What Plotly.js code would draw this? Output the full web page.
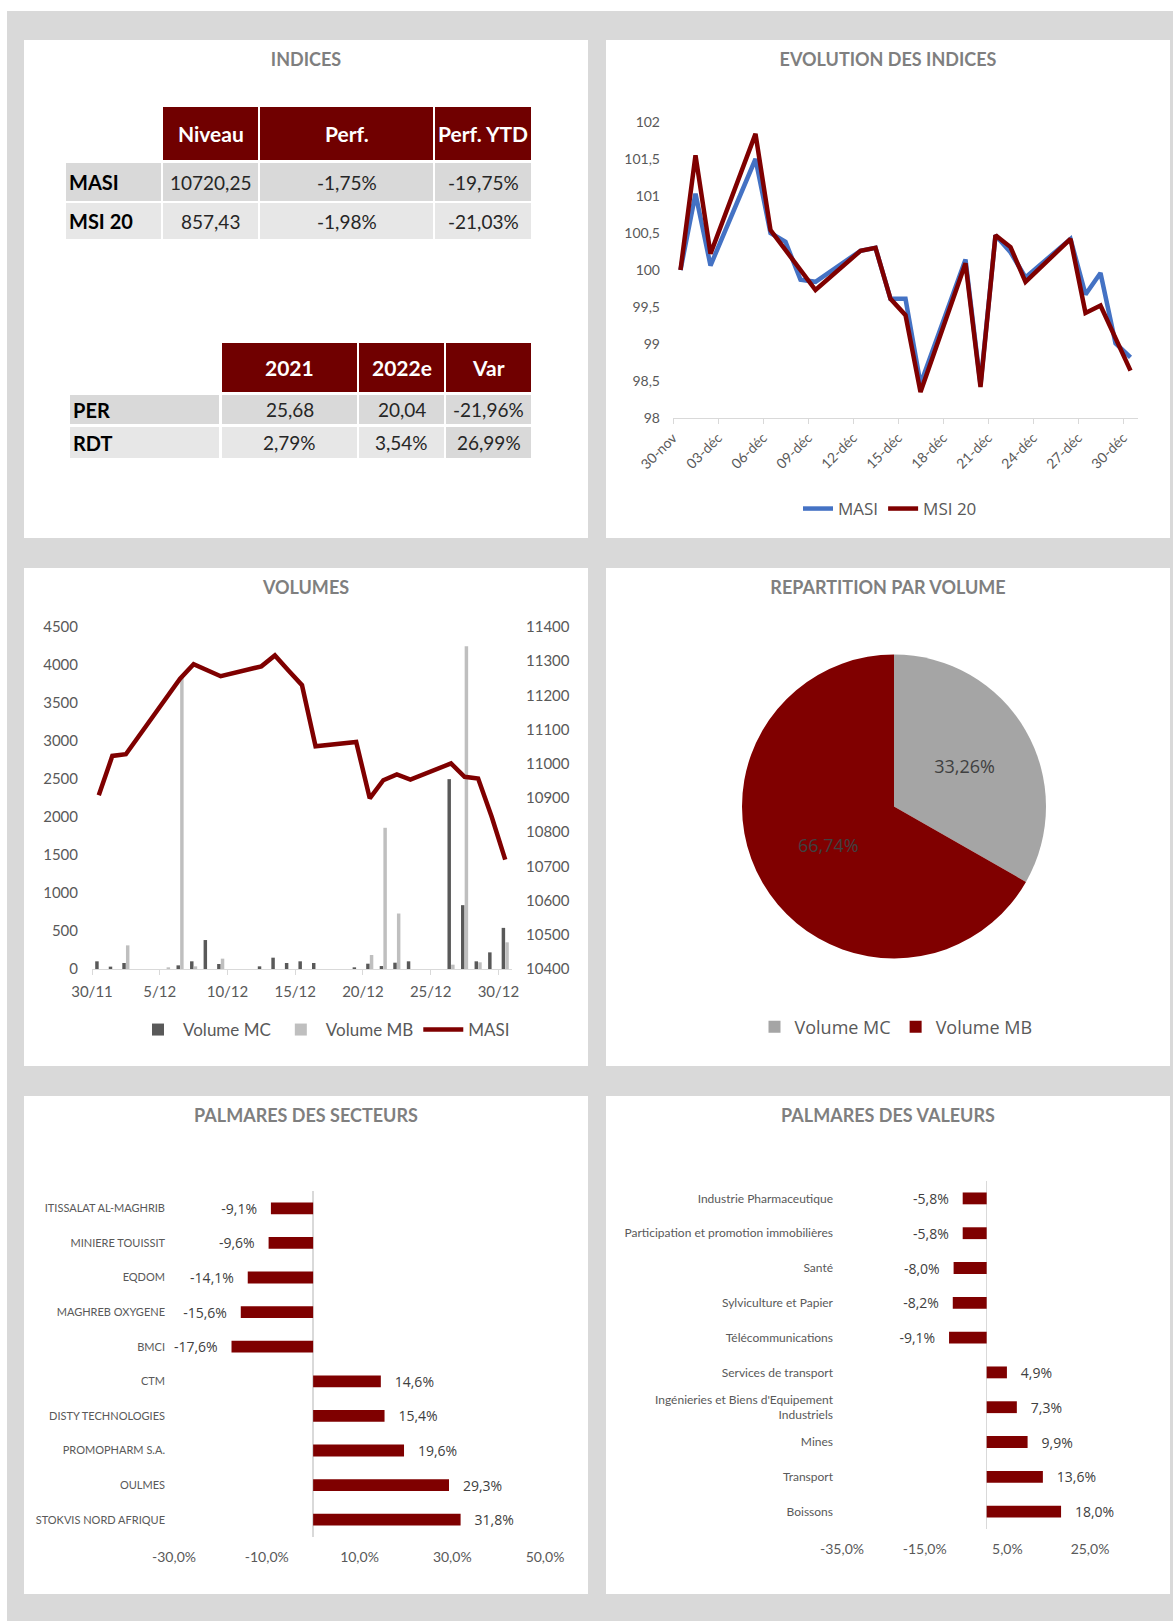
<!DOCTYPE html>
<html>
<head>
<meta charset="utf-8">
<script src="https://cdn.plot.ly/plotly-3.0.1.min.js"></script>
<style>
  html, body { margin: 0; padding: 0; background: #ffffff; }
  #page { position: absolute; left: 7px; top: 11px; width: 1166px; height: 1610px; background: #d9d9d9; }
  .panel { position: absolute; width: 564px; height: 498px; background: #ffffff; }
</style>
</head>
<body>
<div id="page"></div>
<div class="panel" id="indices" style="left:24px;top:40px"></div>
<div class="panel" id="evolution" style="left:606px;top:40px"></div>
<div class="panel" id="volumes" style="left:24px;top:568px"></div>
<div class="panel" id="repartition" style="left:606px;top:568px"></div>
<div class="panel" id="secteurs" style="left:24px;top:1096px"></div>
<div class="panel" id="valeurs" style="left:606px;top:1096px"></div>

<script>
// ---- data ----
const indexHeader = ['Niveau', 'Perf.', 'Perf. YTD'];
const indexNames = ['MASI', 'MSI 20'];
const indexLevel = [10720.25, 857.43];
const indexPerf = [-1.75, -1.98];
const indexPerfYtd = [-19.75, -21.03];

const ratioHeader = ['2021', '2022e', 'Var'];
const ratioNames = ['PER', 'RDT'];
const ratio2021 = [25.68, 2.79];
const ratio2022e = [20.04, 3.54];
const ratioVar = [-21.96, 26.99];
const ratioIsPct = [false, true];

const tradingDays = ['2022-11-30', '2022-12-01', '2022-12-02', '2022-12-05', '2022-12-06',
    '2022-12-07', '2022-12-08', '2022-12-09', '2022-12-12', '2022-12-13', '2022-12-14',
    '2022-12-15', '2022-12-16', '2022-12-19', '2022-12-20', '2022-12-21', '2022-12-22',
    '2022-12-23', '2022-12-26', '2022-12-27', '2022-12-28', '2022-12-29', '2022-12-30'];
const masiBase100 = [100, 101.03, 100.06, 101.5, 100.5, 100.38, 99.87, 99.84, 100.26, 100.3, 99.61,
    99.61, 98.46, 100.14, 98.45, 100.47, 100.24, 99.9, 100.42, 99.67, 99.96, 99.01, 98.82];
const msi20Base100 = [100, 101.55, 100.22, 101.84, 100.54, 100.27, 100.0, 99.73, 100.26, 100.3, 99.61,
    99.39, 98.35, 100.09, 98.42, 100.47, 100.31, 99.84, 100.42, 99.42, 99.52, 99.09, 98.64];

const volumeMC = [101, 31, 79, 0, 48, 101, 381, 66, 35, 149, 79, 101, 79, 22, 70, 39, 83, 101,
    2498, 840, 101, 219, 541];
const volumeMB = [0, 0, 311, 22, 3834, 35, 0, 136, 0, 0, 0, 0, 0, 0, 184, 1858, 730, 0, 57,
    4246, 88, 0, 351];
const masiLevel = [10908, 11023, 11028, 11195, 11249, 11291, 11273, 11256, 11285, 11317, 11273,
    11230, 11051, 11064, 10899, 10952, 10969, 10954, 11001, 10962, 10957, 10845, 10720];

const pieLabels = ['Volume MC', 'Volume MB'];
const pieShares = [33.26, 66.74];

const secteurNames = ['ITISSALAT AL-MAGHRIB', 'MINIERE TOUISSIT', 'EQDOM', 'MAGHREB OXYGENE', 'BMCI',
    'CTM', 'DISTY TECHNOLOGIES', 'PROMOPHARM S.A.', 'OULMES', 'STOKVIS NORD AFRIQUE'];
const secteurPerf = [-9.1, -9.6, -14.1, -15.6, -17.6, 14.6, 15.4, 19.6, 29.3, 31.8];
const secteurTicks = [-30, -10, 10, 30, 50];

const valeurNames = ['Industrie Pharmaceutique', 'Participation et promotion immobilières', 'Santé',
    'Sylviculture et Papier', 'Télécommunications', 'Services de transport',
    'Ingénieries et Biens d\'Equipement<br>Industriels', 'Mines', 'Transport', 'Boissons'];
const valeurPerf = [-5.8, -5.8, -8.0, -8.2, -9.1, 4.9, 7.3, 9.9, 13.6, 18.0];
const valeurTicks = [-35, -15, 5, 25];

// ---- style ----
const FONT = 'Lato, sans-serif';
const FONT_LBL = '"Open Sans", sans-serif';
const RED = '#7f0000';
const HEADER = '#700000';
const TXT = '#595959';
const AXIS = '#d9d9d9';
const ROW_A = '#d9d9d9';
const ROW_B = '#e7e7e7';
const DAY = 86400000;
const W = 564, H = 498;

Plotly.register({
    moduleType: 'locale', name: 'fr', dictionary: {},
    format: {
        months: ['janvier', 'février', 'mars', 'avril', 'mai', 'juin', 'juillet', 'août',
            'septembre', 'octobre', 'novembre', 'décembre'],
        shortMonths: ['janv', 'févr', 'mars', 'avr', 'mai', 'juin', 'juil', 'août', 'sept',
            'oct', 'nov', 'déc'],
        decimal: ',', thousands: ' '
    }
});
const config = { staticPlot: true, displayModeBar: false, locale: 'fr' };

function fmt(v, digits, pct) {
    return v.toFixed(digits).replace('.', ',') + (pct ? '%' : '');
}

function panelLayout(title, margin) {
    margin.autoexpand = false;
    return {
        width: W, height: H, margin: margin,
        paper_bgcolor: '#ffffff', plot_bgcolor: '#ffffff',
        separators: ', ', showlegend: false,
        font: { family: FONT, color: TXT },
        title: {
            text: title, x: 0.5, xanchor: 'center', y: 1 - 20 / H, yanchor: 'middle',
            font: { family: FONT, size: 18, color: '#7f7f7f', weight: 'bold' }
        }
    };
}

function legendAt(cx, cy, font) {
    return {
        orientation: 'h', xref: 'container', yref: 'container',
        x: cx / W, xanchor: 'center', y: 1 - cy / H, yanchor: 'middle',
        font: font, bgcolor: 'rgba(0,0,0,0)'
    };
}

// ===== INDICES (tables drawn as cells: shapes + text) =====
// geometry in panel pixels
const grid1 = { colX: [42, 139, 236, 411], colW: [95, 95, 173, 96], rowY: [67, 123, 163], rowH: [53, 38, 36] };
const grid2 = { colX: [46, 198, 335, 422], colW: [149, 135, 85, 85], rowY: [303, 355, 387], rowH: [49, 29, 31] };

function drawTable(layout, grid, header, body, fills) {
    const px = x => x / W, py = y => 1 - y / H;
    const cell = (r, c, fill, text, font, align) => {
        const x = grid.colX[c], w = grid.colW[c], y = grid.rowY[r], h = grid.rowH[r];
        if (fill) {
            layout.shapes.push({ type: 'rect', xref: 'paper', yref: 'paper', layer: 'below',
                x0: px(x), x1: px(x + w), y0: py(y + h), y1: py(y),
                fillcolor: fill, line: { width: 0 } });
        }
        if (text !== '') {
            layout.annotations.push({ xref: 'paper', yref: 'paper', showarrow: false,
                x: align === 'left' ? px(x + 1) : px(x + w / 2), xanchor: align,
                y: py(y + h / 2), yanchor: 'middle', text: text, font: font });
        }
    };
    header.forEach((t, i) => cell(0, i + 1, HEADER, '<b>' + t + '</b>',
        { family: FONT, size: 21, color: '#ffffff' }, 'center'));
    body.forEach((row, r) => row.forEach((t, c) => {
        const font = c === 0 ? { family: FONT, size: 20, color: '#000000' }
                             : { family: FONT, size: 19, color: '#262626' };
        cell(r + 1, c, fills[r][c], c === 0 ? '<b>' + t + '</b>' : t, font, c === 0 ? 'left' : 'center');
    }));
}

const idxLayout = panelLayout('INDICES', { l: 0, r: 0, t: 0, b: 0 });
idxLayout.xaxis = { visible: false };
idxLayout.yaxis = { visible: false };
idxLayout.shapes = [];
idxLayout.annotations = [];
drawTable(idxLayout, grid1, indexHeader,
    indexNames.map((n, i) => [n, fmt(indexLevel[i], 2, false), fmt(indexPerf[i], 2, true),
        fmt(indexPerfYtd[i], 2, true)]),
    [[ROW_A, ROW_A, ROW_A, ROW_A], [ROW_B, ROW_B, ROW_B, ROW_B]]);
drawTable(idxLayout, grid2, ratioHeader,
    ratioNames.map((n, i) => [n, fmt(ratio2021[i], 2, ratioIsPct[i]), fmt(ratio2022e[i], 2, ratioIsPct[i]),
        fmt(ratioVar[i], 2, true)]),
    [[ROW_A, ROW_A, ROW_A, ROW_A], [ROW_B, ROW_B, ROW_B, ROW_A]]);
Plotly.newPlot('indices', [], idxLayout, config);

// ===== EVOLUTION DES INDICES =====
const evolLayout = panelLayout('EVOLUTION DES INDICES', { l: 67, r: 32, t: 82, b: 120 });
evolLayout.showlegend = true;
evolLayout.legend = legendAt(284, 469, { family: FONT_LBL, size: 17, color: TXT });
evolLayout.xaxis = {
    type: 'date', range: ['2022-11-30', '2022-12-31'], tick0: '2022-11-30', dtick: 3 * DAY,
    tickformat: '%d-%b', tickangle: -45, showgrid: false, zeroline: false,
    showline: true, linecolor: AXIS, linewidth: 1.3, ticks: 'outside', ticklen: 5, tickcolor: AXIS,
    tickfont: { family: FONT, size: 14, color: TXT }
};
evolLayout.yaxis = {
    range: [98, 102], tick0: 98, dtick: 0.5, showgrid: false, zeroline: false, showline: false,
    ticks: '', ticklabelstandoff: 12, tickfont: { family: FONT, size: 14, color: TXT }
};
Plotly.newPlot('evolution', [
    { type: 'scatter', mode: 'lines', name: 'MASI', x: tradingDays, y: masiBase100,
      xperiod: DAY, xperiodalignment: 'middle', line: { color: '#4472c4', width: 4.5 } },
    { type: 'scatter', mode: 'lines', name: 'MSI 20', x: tradingDays, y: msi20Base100,
      xperiod: DAY, xperiodalignment: 'middle', line: { color: RED, width: 4.5 } }
], evolLayout, config);

// ===== VOLUMES =====
const volLayout = panelLayout('VOLUMES', { l: 68, r: 76, t: 59, b: 97 });
volLayout.showlegend = true;
volLayout.legend = legendAt(300, 462, { family: FONT, size: 17, color: TXT });
volLayout.legend.itemwidth = 40;
volLayout.barmode = 'group';
volLayout.bargap = 0.46;
volLayout.bargroupgap = 0.05;
volLayout.xaxis = {
    type: 'date', range: ['2022-11-30', '2022-12-31'], tick0: '2022-11-30', dtick: 5 * DAY,
    tickformat: '%-d/%m', showgrid: false, zeroline: false,
    showline: true, linecolor: AXIS, linewidth: 1.3, ticks: 'outside', ticklen: 5, tickcolor: AXIS,
    ticklabelstandoff: 4, tickfont: { family: FONT, size: 15, color: TXT }
};
volLayout.yaxis = {
    range: [0, 4500], tick0: 0, dtick: 500, tickformat: 'd', showgrid: false, zeroline: false,
    showline: false, ticks: '', ticklabelstandoff: 13, tickfont: { family: FONT, size: 15, color: TXT }
};
volLayout.yaxis2 = {
    overlaying: 'y', side: 'right', range: [10400, 11400], tick0: 10400, dtick: 100, tickformat: 'd',
    showgrid: false, zeroline: false, showline: false, ticks: '', ticklabelstandoff: 13,
    tickfont: { family: FONT, size: 15, color: TXT }
};
Plotly.newPlot('volumes', [
    { type: 'bar', name: 'Volume MC', x: tradingDays, y: volumeMC, xperiod: DAY,
      xperiodalignment: 'middle', marker: { color: '#595959' } },
    { type: 'bar', name: 'Volume MB', x: tradingDays, y: volumeMB, xperiod: DAY,
      xperiodalignment: 'middle', marker: { color: '#bfbfbf' } },
    { type: 'scatter', mode: 'lines', name: 'MASI', x: tradingDays, y: masiLevel, yaxis: 'y2',
      xperiod: DAY, xperiodalignment: 'middle', line: { color: RED, width: 4.5 } }
], volLayout, config);

// ===== REPARTITION PAR VOLUME =====
const pieLayout = panelLayout('REPARTITION PAR VOLUME', { l: 0, r: 0, t: 0, b: 0 });
pieLayout.showlegend = true;
pieLayout.legend = legendAt(290, 459, { family: FONT_LBL, size: 18, color: TXT });
Plotly.newPlot('repartition', [{
    type: 'pie', labels: pieLabels, values: pieShares, sort: false, direction: 'clockwise',
    rotation: 0, domain: { x: [136 / W, 440 / W], y: [1 - 391 / H, 1 - 86 / H] },
    marker: { colors: ['#a5a5a5', '#800000'], line: { width: 0 } },
    texttemplate: '%{percent:.2%}', textposition: 'inside', insidetextorientation: 'horizontal',
    textfont: { family: FONT_LBL, size: 18, color: '#404040' }
}], pieLayout, config);

// ===== PALMARES (horizontal bars) =====
function palmares(containerId, title, names, values, ticks, margin, xRange, labelSize) {
    const layout = panelLayout(title, margin);
    layout.xaxis = {
        range: xRange, tickvals: ticks, ticktext: ticks.map(t => fmt(t, 1, true)),
        showgrid: false, showline: false, ticks: '',
        zeroline: true, zerolinecolor: AXIS, zerolinewidth: 1.5,
        ticklabelstandoff: 10, tickfont: { family: FONT, size: 14, color: TXT }
    };
    layout.yaxis = {
        type: 'category', autorange: 'reversed', showgrid: false, showline: false, zeroline: false,
        ticks: '', ticklabelstandoff: 8, tickfont: { family: FONT, size: labelSize, color: TXT }
    };
    layout.bargap = 0.66;
    Plotly.newPlot(containerId, [{
        type: 'bar', orientation: 'h', y: names, x: values,
        marker: { color: RED },
        texttemplate: '&nbsp;&nbsp;&nbsp;%{x:.1f}%&nbsp;&nbsp;&nbsp;', textposition: 'outside',
        cliponaxis: false, constraintext: 'none',
        textfont: { family: FONT_LBL, size: 14, color: '#404040' }
    }], layout, config);
}

palmares('secteurs', 'PALMARES DES SECTEURS', secteurNames, secteurPerf, secteurTicks,
    { l: 150, r: 43, t: 95, b: 57 }, [-30, 50], 11);
palmares('valeurs', 'PALMARES DES VALEURS', valeurNames, valeurPerf, valeurTicks,
    { l: 236, r: 80, t: 85, b: 65 }, [-35, 25], 12);
</script>
</body>
</html>
